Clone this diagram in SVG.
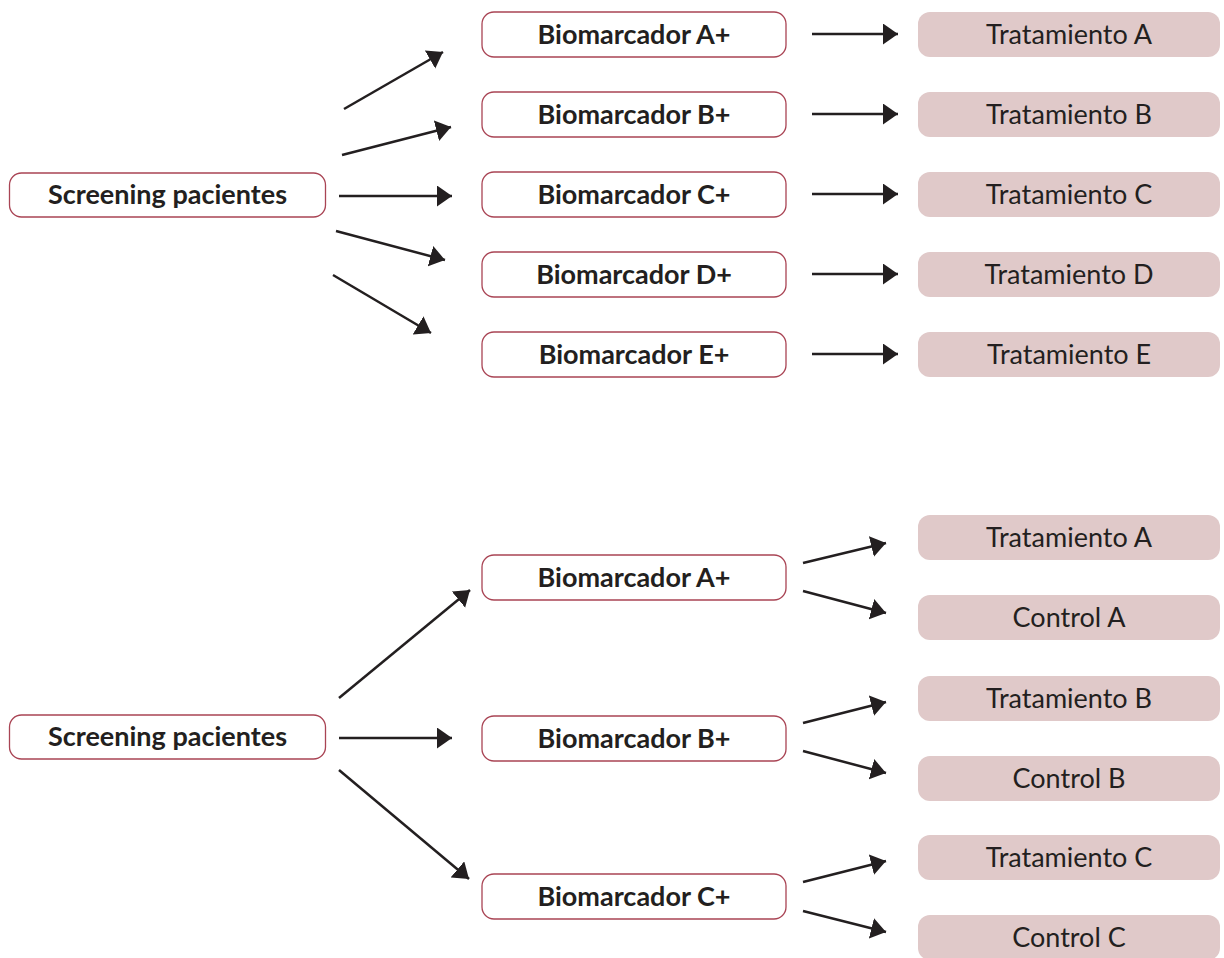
<svg xmlns="http://www.w3.org/2000/svg" width="1224" height="958" viewBox="0 0 1224 958">
<style>
.bx{fill:#ffffff;stroke:#a94454;stroke-width:1.3}
.tr{fill:#e0c9c9;stroke:none}
.tb{font-family:Lato,"Liberation Sans",sans-serif;font-weight:bold;font-size:27px;fill:#231f20;text-anchor:middle}
.tn{font-family:Lato,"Liberation Sans",sans-serif;font-weight:normal;font-size:27px;fill:#231f20;text-anchor:middle}
.ar{stroke:#231f20;stroke-width:2.5;fill:none;marker-end:url(#ah)}
</style>
<defs>
<marker id="ah" markerUnits="userSpaceOnUse" markerWidth="16" markerHeight="22" refX="15" refY="10.5" orient="auto" viewBox="0 0 16 22">
<path d="M0,0 L15,10.5 L0,21 Z" fill="#231f20"/>
</marker>
</defs>
<rect width="1224" height="958" fill="#ffffff"/>

<g id="connectors">
<line class="ar" x1="344" y1="109" x2="443" y2="52"/>
<line class="ar" x1="342" y1="155" x2="451" y2="127"/>
<line class="ar" x1="339" y1="196" x2="452" y2="196"/>
<line class="ar" x1="336" y1="231" x2="445" y2="260"/>
<line class="ar" x1="333" y1="275" x2="431" y2="333"/>
<line class="ar" x1="812" y1="34" x2="898" y2="34"/>
<line class="ar" x1="812" y1="114" x2="898" y2="114"/>
<line class="ar" x1="812" y1="194" x2="898" y2="194"/>
<line class="ar" x1="812" y1="274" x2="898" y2="274"/>
<line class="ar" x1="812" y1="354" x2="898" y2="354"/>
<line class="ar" x1="339" y1="698" x2="470" y2="590"/>
<line class="ar" x1="339" y1="738" x2="452" y2="738"/>
<line class="ar" x1="339" y1="770" x2="469" y2="879"/>
<line class="ar" x1="803" y1="563" x2="886" y2="543"/>
<line class="ar" x1="803" y1="591" x2="886" y2="613"/>
<line class="ar" x1="803" y1="723" x2="886" y2="702"/>
<line class="ar" x1="803" y1="751" x2="886" y2="773"/>
<line class="ar" x1="803" y1="882" x2="886" y2="861"/>
<line class="ar" x1="803" y1="911" x2="886" y2="932"/>
</g>

<g id="screening1"><rect class="bx" x="9.5" y="173" width="316" height="44" rx="12"/><text class="tb" x="167.5" y="204">Screening pacientes</text></g>
<g id="bioA1"><rect class="bx" x="482" y="12" width="304" height="45" rx="12"/><text class="tb" x="634" y="44">Biomarcador A+</text></g>
<g id="bioB1"><rect class="bx" x="482" y="92" width="304" height="45" rx="12"/><text class="tb" x="634" y="124">Biomarcador B+</text></g>
<g id="bioC1"><rect class="bx" x="482" y="172" width="304" height="45" rx="12"/><text class="tb" x="634" y="204">Biomarcador C+</text></g>
<g id="bioD1"><rect class="bx" x="482" y="252" width="304" height="45" rx="12"/><text class="tb" x="634" y="284">Biomarcador D+</text></g>
<g id="bioE1"><rect class="bx" x="482" y="332" width="304" height="45" rx="12"/><text class="tb" x="634" y="364">Biomarcador E+</text></g>
<g id="trA1"><rect class="tr" x="918" y="12" width="302" height="45" rx="12"/><text class="tn" x="1069" y="44">Tratamiento A</text></g>
<g id="trB1"><rect class="tr" x="918" y="92" width="302" height="45" rx="12"/><text class="tn" x="1069" y="124">Tratamiento B</text></g>
<g id="trC1"><rect class="tr" x="918" y="172" width="302" height="45" rx="12"/><text class="tn" x="1069" y="204">Tratamiento C</text></g>
<g id="trD1"><rect class="tr" x="918" y="252" width="302" height="45" rx="12"/><text class="tn" x="1069" y="284">Tratamiento D</text></g>
<g id="trE1"><rect class="tr" x="918" y="332" width="302" height="45" rx="12"/><text class="tn" x="1069" y="364">Tratamiento E</text></g>

<g id="screening2"><rect class="bx" x="9.5" y="715" width="316" height="44" rx="12"/><text class="tb" x="167.5" y="746">Screening pacientes</text></g>
<g id="bioA2"><rect class="bx" x="482" y="555" width="304" height="45" rx="12"/><text class="tb" x="634" y="587">Biomarcador A+</text></g>
<g id="bioB2"><rect class="bx" x="482" y="716" width="304" height="45" rx="12"/><text class="tb" x="634" y="748">Biomarcador B+</text></g>
<g id="bioC2"><rect class="bx" x="482" y="874" width="304" height="45" rx="12"/><text class="tb" x="634" y="906">Biomarcador C+</text></g>
<g id="trA2"><rect class="tr" x="918" y="515" width="302" height="45" rx="12"/><text class="tn" x="1069" y="547">Tratamiento A</text></g>
<g id="ctA2"><rect class="tr" x="918" y="595" width="302" height="45" rx="12"/><text class="tn" x="1069" y="627">Control A</text></g>
<g id="trB2"><rect class="tr" x="918" y="676" width="302" height="45" rx="12"/><text class="tn" x="1069" y="708">Tratamiento B</text></g>
<g id="ctB2"><rect class="tr" x="918" y="756" width="302" height="45" rx="12"/><text class="tn" x="1069" y="788">Control B</text></g>
<g id="trC2"><rect class="tr" x="918" y="835" width="302" height="45" rx="12"/><text class="tn" x="1069" y="867">Tratamiento C</text></g>
<g id="ctC2"><rect class="tr" x="918" y="915" width="302" height="45" rx="12"/><text class="tn" x="1069" y="947">Control C</text></g>
</svg>
